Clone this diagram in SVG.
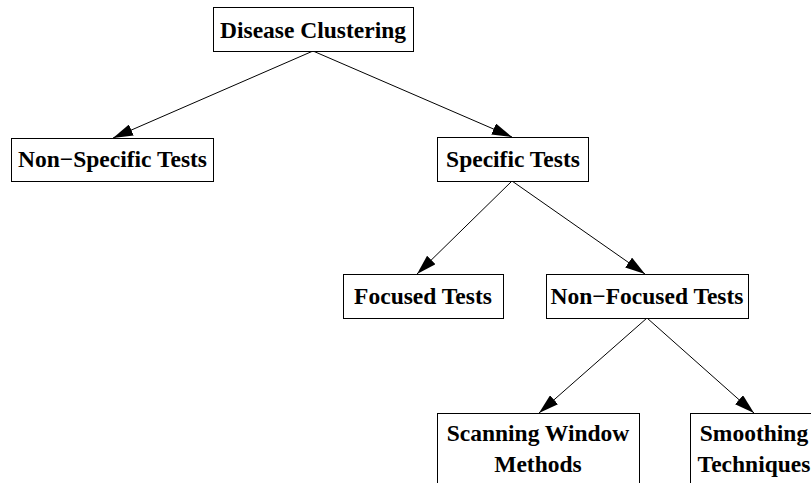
<svg xmlns="http://www.w3.org/2000/svg" width="811" height="483" viewBox="0 0 811 483">
<style>
.box{fill:#fff;stroke:#000;stroke-width:1}
.t{font-family:"Liberation Serif","Times New Roman",serif;font-weight:bold;font-size:23.5px;fill:#000}
.e{stroke:#000;stroke-width:1;fill:none;marker-end:url(#ah)}
</style>
<defs>
<marker id="ah" markerWidth="20" markerHeight="12" viewBox="0 0 20 12" refX="20" refY="6" orient="auto" markerUnits="userSpaceOnUse">
<path d="M0,0 L20,6 L0,12 Z" fill="#000"/>
</marker>
</defs>
<rect width="811" height="483" fill="#fff"/>
<g id="connectors">
<line class="e" x1="313" y1="51" x2="113" y2="138"/>
<line class="e" x1="313" y1="51" x2="512" y2="137"/>
<line class="e" x1="512" y1="181" x2="417" y2="274"/>
<line class="e" x1="512" y1="181" x2="645" y2="274"/>
<line class="e" x1="647" y1="318" x2="539" y2="413"/>
<line class="e" x1="647" y1="318" x2="754" y2="413"/>
</g>
<g id="n-disease">
<rect class="box" x="213.5" y="7.5" width="200" height="44"/>
<text class="t" x="313" y="38" text-anchor="middle">Disease Clustering</text>
</g>
<g id="n-nonspecific">
<rect class="box" x="11.5" y="138.5" width="202" height="43"/>
<text class="t" x="112.5" y="167" text-anchor="middle">Non−Specific Tests</text>
</g>
<g id="n-specific">
<rect class="box" x="437.5" y="137.5" width="151" height="44"/>
<text class="t" x="513" y="167" text-anchor="middle">Specific Tests</text>
</g>
<g id="n-focused">
<rect class="box" x="343.5" y="274.5" width="160" height="44"/>
<text class="t" x="423" y="304" text-anchor="middle">Focused Tests</text>
</g>
<g id="n-nonfocused">
<rect class="box" x="546.5" y="274.5" width="202" height="44"/>
<text class="t" x="647" y="304" text-anchor="middle">Non−Focused Tests</text>
</g>
<g id="n-scanning">
<rect class="box" x="437.5" y="413.5" width="202" height="90"/>
<text class="t" x="538" y="441" text-anchor="middle">Scanning Window</text>
<text class="t" x="538" y="472" text-anchor="middle">Methods</text>
</g>
<g id="n-smoothing">
<rect class="box" x="690.5" y="413.5" width="130" height="90"/>
<text class="t" x="754" y="441" text-anchor="middle">Smoothing</text>
<text class="t" x="754" y="472" text-anchor="middle">Techniques</text>
</g>
</svg>
